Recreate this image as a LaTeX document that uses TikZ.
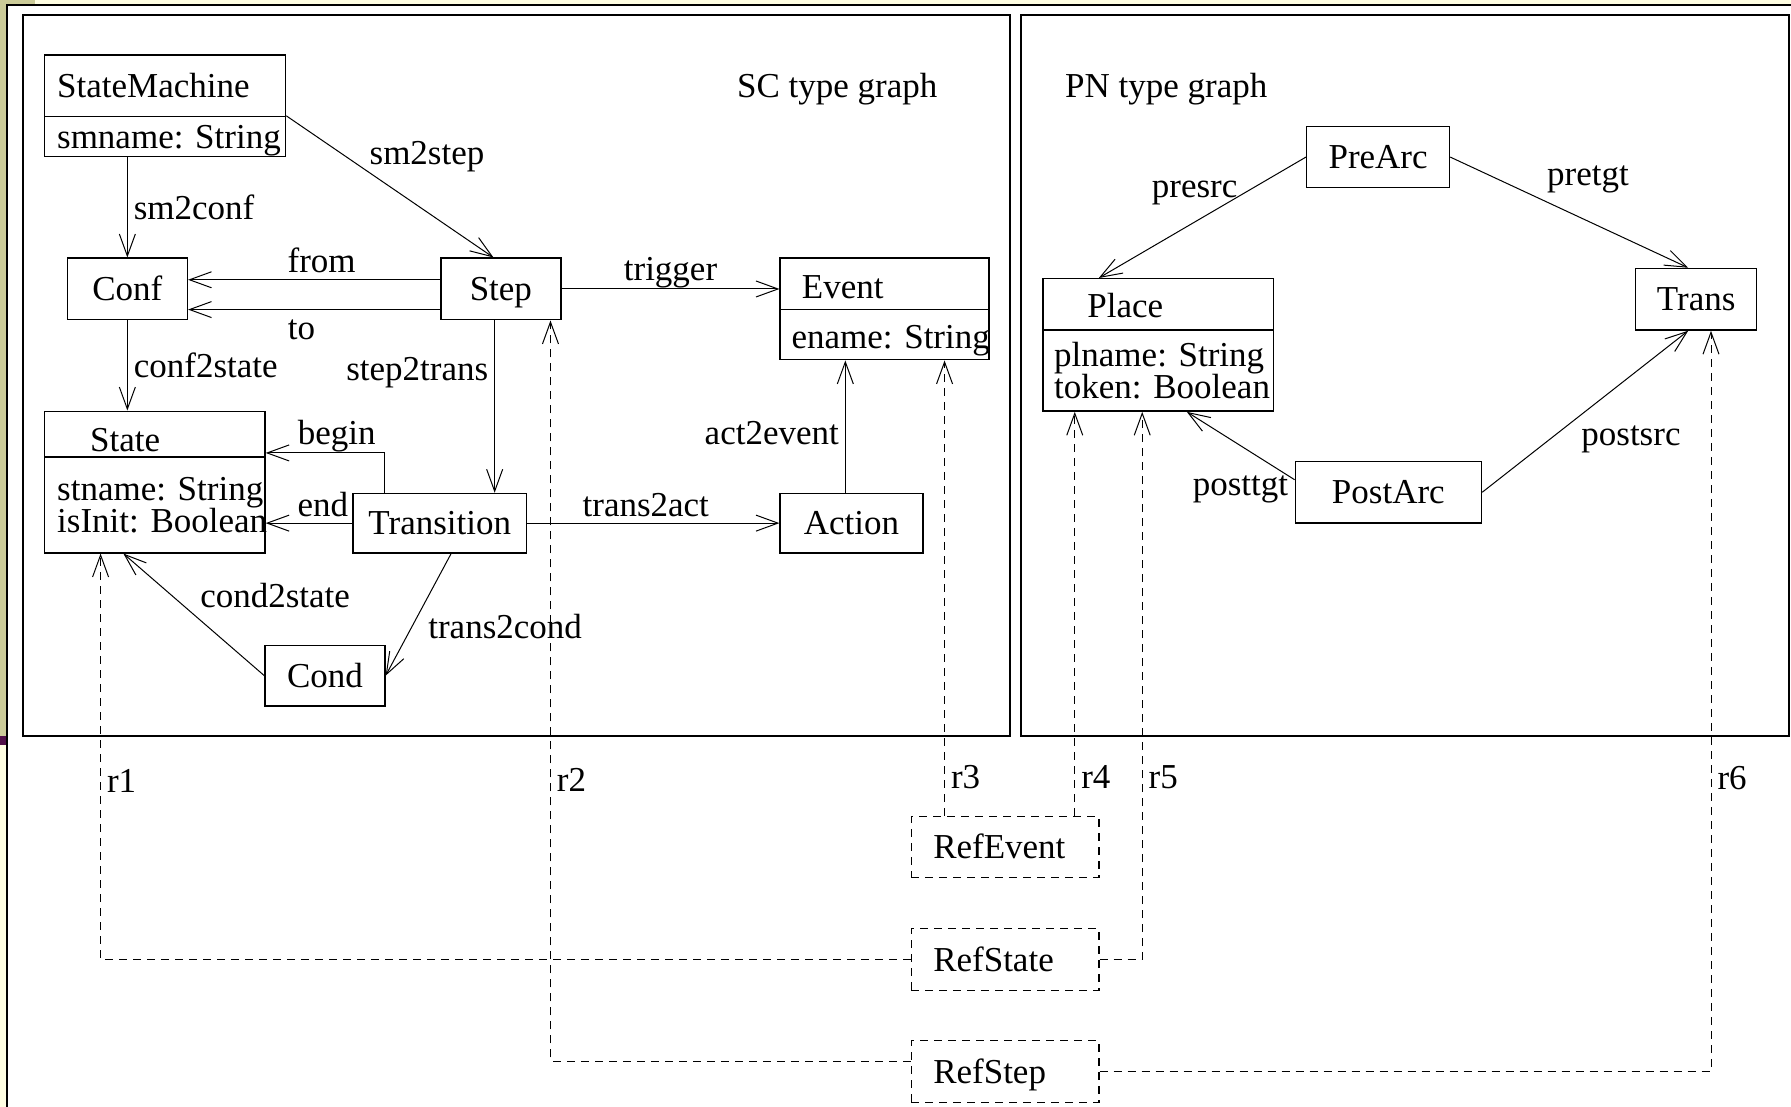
\documentclass[tikz,border=0pt]{standalone}
\usepackage{fontspec}
\setmainfont{Liberation Serif}
\usepackage{xcolor}
\usepackage{tikz}
\usetikzlibrary{arrows.meta}

\newcommand{\diagfont}{\fontsize{17.5}{16}\selectfont\lineskiplimit=-20pt\frenchspacing}
\definecolor{slidebg}{RGB}{255,254,226}
\definecolor{slideolive}{RGB}{204,204,153}
\definecolor{slideplum}{RGB}{80,16,72}

\tikzset{
  cls/.style={draw, line width=0.7pt, inner ysep=0pt, font=\diagfont},
  oneline/.style={text height=14pt, text depth=2.4pt},
  clsleft/.style 2 args={cls, inner xsep=#1, text width=#2, align=left},
  clsmid/.style 2 args={cls, oneline, inner xsep=0pt, minimum width=#1, minimum height=#2},
  refdash/.style={dash pattern=on 4pt off 3pt},
  lbl/.style={font=\diagfont, inner sep=3pt},
}

\begin{document}
\begin{tikzpicture}[x=0.5711pt, y=-0.5711pt, line width=0.5pt,
    >={Straight Barb[length=11pt,width=8pt]}]
		\useasboundingbox (0,0) rectangle (1568,969);
		% slide background
		\fill[slidebg] (0,0) rectangle (1568,969);
		\fill[white] (6.1,4.4) rectangle (1568,969);
		\fill[slideolive] (0,0) rectangle (30.6,3.6);
		\fill[slideolive] (0,0) rectangle (5.3,644.4);
		\fill[slideplum] (0,644.4) rectangle (5.3,652.3);
		\draw[line width=1pt] (6.1,969) |- (1568,4.4);
		%
		\draw[line width=0.9pt] (20.1,13.1) rectangle (884.3,644.4);
		\draw[line width=0.9pt] (893.9,13.1) rectangle (1566.3,644.4);
		\node[lbl] (scname) at (733,78) {SC type graph};
		\node[lbl] (pnname) at (1021,78) {PN type graph};
		%
		\node[clsleft={6.3pt}{107.9pt}, oneline, minimum height=30.8pt] (sm) at (144.5,75) {StateMachine};
		\node[clsleft={6.3pt}{107.9pt}, oneline, minimum height=20pt] (smattr) at (144.5,119.5) {\mbox{smname: String}};
		\node[clsmid={60pt}{30.8pt}] (conf) at (111.5,253) {Conf};
		\node[clsmid={60pt}{30.8pt}] (step) at (438.5,253) {Step};
		\node[clsleft={10.9pt}{82.7pt}, text height=17pt, text depth=2.4pt, minimum height=25.7pt] (event) at (774.5,248.5) {Event};
		\node[clsleft={5.7pt}{93.1pt}, text height=16pt, text depth=2.4pt, minimum height=25.1pt] (eventattr) at (774.5,293) {\mbox{ename: String}};
		\node[clsleft={22.8pt}{64.6pt}, text height=17.5pt, text depth=0pt, minimum height=22.8pt] (state) at (135.5,380) {State};
		\node[clsleft={6.3pt}{97.6pt}, minimum height=48pt] (stateattr) at (135.5,442) {\mbox{stname: String}\\\mbox{isInit: Boolean}};
		\node[clsmid={86.8pt}{29.7pt}] (transition) at (385,458) {Transition};
		\node[clsmid={71.4pt}{29.7pt}] (action) at (745.5,458) {Action};
		\node[clsmid={60pt}{30.3pt}] (cond) at (284.5,591.5) {Cond};
		%
		\node[clsmid={71.4pt}{30.3pt}] (prearc) at (1206.5,137.5) {PreArc};
		\node[clsmid={60.5pt}{30.8pt}] (trans) at (1485,262) {Trans};
		\node[clsleft={22.3pt}{70.8pt}, text height=15.5pt, text depth=2.4pt, minimum height=25.7pt] (place) at (1014,266.5) {Place};
		\node[clsleft={5.7pt}{104pt}, minimum height=40.5pt] (placeattr) at (1014,324.5) {\mbox{plname: String}\\\mbox{token: Boolean}};
		\node[clsmid={93.1pt}{30.8pt}] (postarc) at (1215.5,431) {PostArc};
		%
		\node[clsleft={10.9pt}{71.9pt}, oneline, minimum height=30.3pt, refdash] (refevent) at (880,741.5) {RefEvent};
		\node[clsleft={10.9pt}{71.9pt}, oneline, minimum height=30.8pt, refdash] (refstate) at (880,840) {RefState};
		\node[clsleft={10.9pt}{71.9pt}, oneline, minimum height=30.8pt, refdash] (refstep) at (880,938) {RefStep};
		%
		\path[->,font=\diagfont,nodes={inner sep=3pt}]
		(conf.north |- smattr.south) edge node[right]{sm2conf} (conf.north)
		(smattr.north east) edge node[above right,pos=0.4,inner sep=0pt]{sm2step} ([xshift=-3.7pt]step.north)
		([yshift=4.6pt]step.west) edge node[above,pos=0.47]{from} ([yshift=4.6pt]step.west -| conf.east)
		([yshift=-10.3pt]step.west) edge node[below,pos=0.55,yshift=-2pt]{to} ([yshift=-10.3pt]step.west -| conf.east)
		(conf.south) edge node[right]{conf2state} (conf.south |- state.north)
		([xshift=-3.1pt]step.south) edge node[left,pos=0.3]{step2trans} ([xshift=-3.1pt]step.south |- transition.north)
		(step.east) edge node[above,yshift=-3pt]{trigger} (step.east -| event.west)
		(transition.west) edge node[above,pos=0.34]{end} (transition.west -| stateattr.east)
		(transition.east) edge node[above,pos=0.47]{trans2act} (action.west)
		([xshift=-3.1pt]action.north) edge node[left,yshift=-3pt]{act2event} ([xshift=-3.1pt]action.north |- eventattr.south)
		([xshift=5.7pt]transition.south) edge node[right,pos=0.6,xshift=5pt]{trans2cond} (cond.east)
		(cond.west) edge node[above right]{cond2state} ([xshift=-15.7pt]stateattr.south);
		\draw[->,font=\diagfont,nodes={inner sep=3pt}] ([xshift=16pt]transition.north west) |- node[above,pos=0.7,yshift=-3pt]{begin} ([yshift=2.3pt]state.south east);
		%
		\path[->,font=\diagfont,nodes={inner sep=3pt}]
		(prearc.west) edge node[left,pos=0.3]{presrc} ([xshift=-29.7pt]place.north)
		(prearc.east) edge node[above right,pos=0.38]{pretgt} ([xshift=-4pt]trans.north)
		([yshift=6.3pt]postarc.west) edge node[left,pos=0,yshift=-5pt]{posttgt} ([xshift=14.3pt]placeattr.south)
		(postarc.east) edge node[below right,pos=0.45]{postsrc} ([xshift=-4pt]trans.south);
		%
		\draw[->,refdash,font=\diagfont,nodes={inner sep=3pt}] (refstate.west) -| node[right,pos=0.72]{r1} ([xshift=-27.1pt]stateattr.south);
		\draw[->,refdash,font=\diagfont,nodes={inner sep=3pt}] ([yshift=5.1pt]refstep.west) -| node[right,pos=0.69]{r2} ([xshift=24.8pt]step.south);
		\draw[->,refdash,font=\diagfont,nodes={inner sep=3pt}] ([xshift=-30.3pt]refevent.north) -- node[right,pos=0.085]{r3} ([xshift=-30.3pt]refevent.north |- eventattr.south);
		\draw[->,refdash,font=\diagfont,nodes={inner sep=3pt}] ([xshift=34.8pt]refevent.north) -- node[right,pos=0.096]{r4} ([xshift=34.8pt]refevent.north |- placeattr.south);
		\draw[->,refdash,font=\diagfont,nodes={inner sep=3pt}] (refstate.east) -| node[right,pos=0.666]{r5} ([xshift=-8pt]placeattr.south);
		\draw[->,refdash,font=\diagfont,nodes={inner sep=3pt}] (refstep.east) -| node[right,pos=0.698]{r6} ([xshift=7.4pt]trans.south);
\end{tikzpicture}
\end{document}
